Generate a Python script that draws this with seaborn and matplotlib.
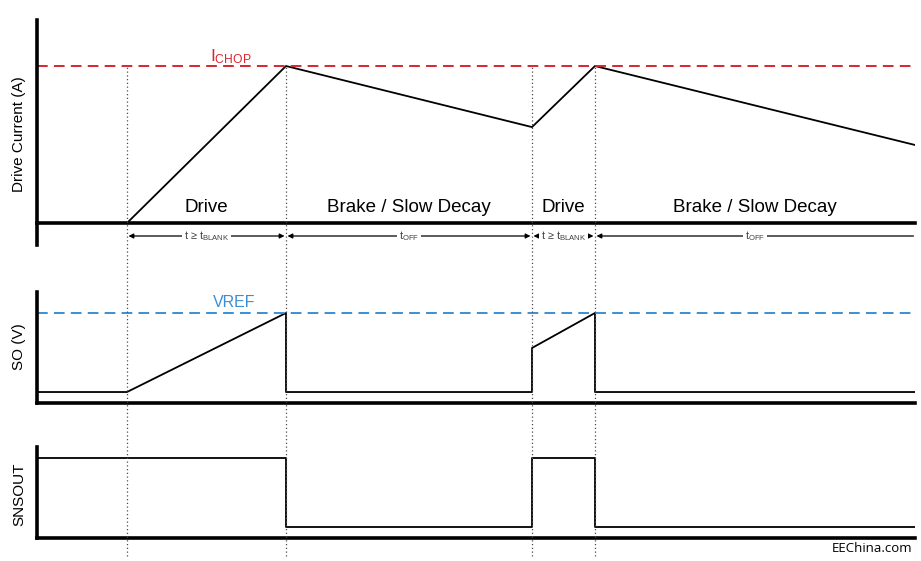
# Chronogramme du courant de hachage (ICHOP / VREF / SNSOUT)
import pandas as pd
import seaborn as sns
import matplotlib.pyplot as plt

# Instants de commutation (unités arbitraires, 0 = axe vertical)
t_events = [90, 249, 495, 558]
t_end = 878

# Courant moteur (I_CHOP = 1)
current_t = [0, 90, 249, 495, 558, 878]
current_v = [0, 0, 1.0, 0.611, 1.0, 0.497]

# Tension SO (VREF = 1)
so_t = [0, 90, 249, 249, 495, 495, 558, 558, 878]
so_v = [0.122, 0.122, 1.0, 0.122, 0.122, 0.611, 1.0, 0.122, 0.122]

# Sortie SNSOUT (niveau haut = 1)
snsout_t = [0, 249, 249, 495, 495, 558, 558, 878]
snsout_v = [1.0, 1.0, 0.1375, 0.1375, 1.0, 1.0, 0.1375, 0.1375]

phases = ["Drive", "Brake / Slow Decay", "Drive", "Brake / Slow Decay"]
intervals = [r"t ≥ t$_{\mathrm{BLANK}}$", r"t$_{\mathrm{OFF}}$",
             r"t ≥ t$_{\mathrm{BLANK}}$", r"t$_{\mathrm{OFF}}$"]

ichop = 1.0
vref = 1.0

RED = "#d7262f"
BLUE = "#3a8fd4"

sns.set_theme(style="white")
plt.rcParams["font.family"] = ["Liberation Sans", "DejaVu Sans"]
plt.rcParams["text.color"] = "black"
plt.rcParams["axes.labelcolor"] = "black"
plt.rcParams["mathtext.fontset"] = "custom"
plt.rcParams["mathtext.rm"] = "Liberation Sans"
plt.rcParams["mathtext.it"] = "Liberation Sans:italic"
plt.rcParams["mathtext.bf"] = "Liberation Sans:bold"

W, H = 921, 561
fig = plt.figure(figsize=(W / 100, H / 100), dpi=100)


def box(top, bottom):
    return [37 / W, 1 - bottom / H, 878 / W, (bottom - top) / H]


ax1 = fig.add_axes(box(20, 245))
ax2 = fig.add_axes(box(292, 403))
ax3 = fig.add_axes(box(447, 538))

df_i = pd.DataFrame({"t": current_t, "v": current_v})
df_so = pd.DataFrame({"t": so_t, "v": so_v})
df_sn = pd.DataFrame({"t": snsout_t, "v": snsout_v})

sns.lineplot(data=df_i, x="t", y="v", ax=ax1, color="black", lw=1.3,
             sort=False, estimator=None)
sns.lineplot(data=df_so, x="t", y="v", ax=ax2, color="black", lw=1.3,
             sort=False, estimator=None)
sns.lineplot(data=df_sn, x="t", y="v", ax=ax3, color="black", lw=1.3,
             sort=False, estimator=None)

ax1.axhline(ichop, color=RED, lw=1.4, ls=(0, (5.5, 3.2)))
ax2.axhline(vref, color=BLUE, lw=1.4, ls=(0, (5.5, 3.2)))

ax1.set_ylim(-0.140, 1.293)
ax2.set_ylim(0, 1.233)
ax3.set_ylim(0, 1.1375)

labels = ["Drive Current (A)", "SO (V)", "SNSOUT"]
label_y = [0.493, 0.505, 0.484]
for ax, lab, ly in zip([ax1, ax2, ax3], labels, label_y):
    ax.set_xlim(0, t_end)
    ax.set_xticks([])
    ax.set_yticks([])
    ax.set_xlabel("")
    ax.set_ylabel(lab, fontsize=11, color="black")
    ax.yaxis.set_label_coords(-0.0125, ly)
    sns.despine(ax=ax)
    for s in ["left", "bottom"]:
        ax.spines[s].set_linewidth(2.6)
        ax.spines[s].set_color("black")
    ax.patch.set_alpha(0)
ax1.spines["bottom"].set_position(("data", 0))

# Libellés des phases
bounds = t_events + [t_end]
for i, ph in enumerate(phases):
    mid = (bounds[i] + bounds[i + 1]) / 2
    ax1.text(mid, 0.10, ph, ha="center", va="center", fontsize=13.5,
             color="black")

ax1.text(194, 1.032, r"I$_{\mathrm{CHOP}}$", color=RED, fontsize=12.5,
         ha="center", va="baseline")
ax2.text(197, 1.067, "VREF", color=BLUE, fontsize=11.5,
         ha="center", va="baseline")

# Calque commun : pointillés verticaux et flèches de durée
ov = fig.add_axes([37 / W, 0, 878 / W, 1])
ov.set_xlim(0, t_end)
ov.set_ylim(0, 1)
ov.axis("off")
ov.patch.set_alpha(0)

for t in t_events:
    ov.axvline(t, ymin=1 - 556 / H, ymax=1 - 66 / H, color="0.3",
               lw=0.9, ls=(0, (1, 2)))

y_arrow = 1 - 236 / H
for i, lab in enumerate(intervals):
    a, b = bounds[i], bounds[i + 1]
    style = "<|-|>" if i < len(intervals) - 1 else "<|-"
    ov.annotate("", xy=(b - 1.5, y_arrow), xytext=(a + 1.5, y_arrow),
                arrowprops=dict(arrowstyle=style, color="black", lw=0.9,
                                mutation_scale=7, shrinkA=0, shrinkB=0))
    ov.text((a + b) / 2, y_arrow, lab, ha="center", va="center",
            fontsize=7.8, color="0.25",
            bbox=dict(fc="white", ec="none", pad=1.5))

fig.text(912 / W, 1 - 548 / H, "EEChina.com", ha="right", va="center",
         fontsize=9.5, family=["Open Sans", "DejaVu Sans"], color="black")

fig.savefig("out.png", dpi=100)
